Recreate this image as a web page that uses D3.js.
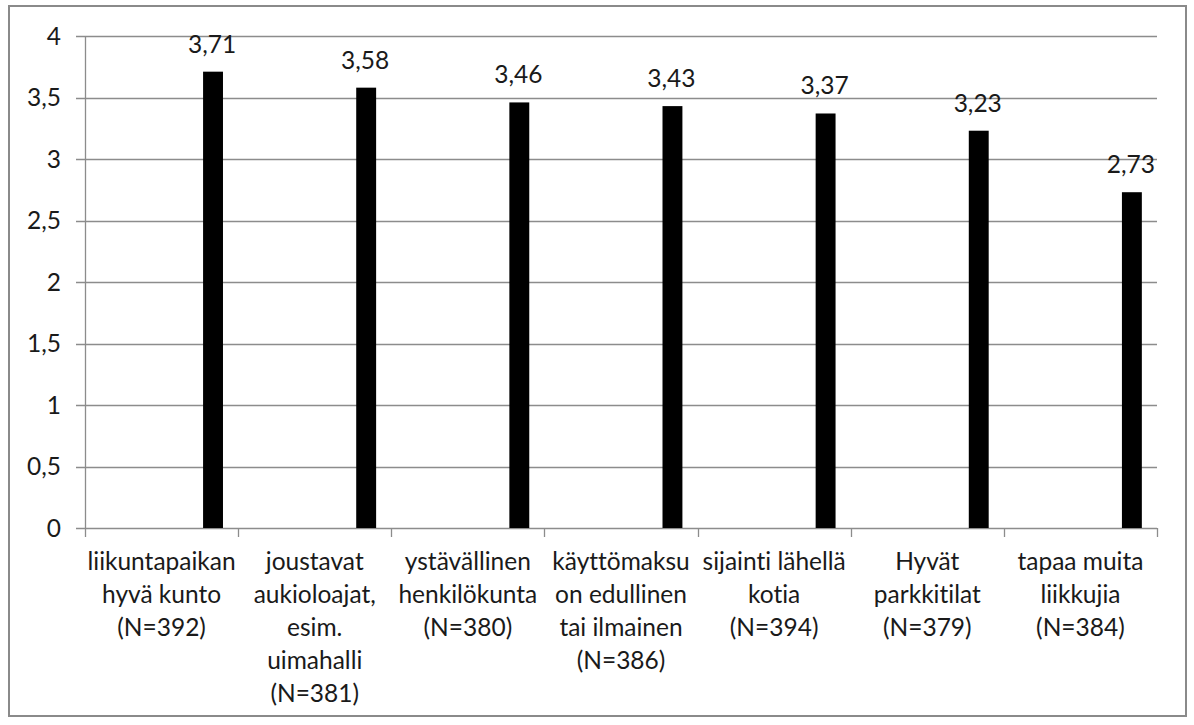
<!DOCTYPE html>
<html>
<head>
<meta charset="utf-8">
<script src="https://cdn.jsdelivr.net/npm/d3@7"></script>
<style>
  html, body { margin: 0; padding: 0; background: #fff; }
  svg { display: block; }
  text {
    font-family: Lato, "Open Sans", sans-serif;
    fill: #1a1a1a;
    font-variant-ligatures: none;
    font-feature-settings: "liga" 0, "clig" 0;
  }
</style>
</head>
<body>
<svg id="chart" width="1194" height="725"></svg>
<script>
// Category labels, one entry per line of the wrapped label
const categories = [
  ["liikuntapaikan", "hyvä kunto", "(N=392)"],
  ["joustavat", "aukioloajat,", "esim.", "uimahalli", "(N=381)"],
  ["ystävällinen", "henkilökunta", "(N=380)"],
  ["käyttömaksu", "on edullinen", "tai ilmainen", "(N=386)"],
  ["sijainti lähellä", "kotia", "(N=394)"],
  ["Hyvät", "parkkitilat", "(N=379)"],
  ["tapaa muita", "liikkujia", "(N=384)"]
];
const values = [3.71, 3.58, 3.46, 3.43, 3.37, 3.23, 2.73];
const yTicks = [0, 0.5, 1, 1.5, 2, 2.5, 3, 3.5, 4];

const svg = d3.select("#chart");
const W = 1194, H = 725;
const margin = { left: 85, right: 37, top: 36, bottom: 197 };
const plotW = W - margin.left - margin.right;
const plotH = H - margin.top - margin.bottom;
const fontSize = 24.5;
const gridColor = "#8c8c8c";

// Outer chart frame
svg.append("rect")
  .attr("x", 9).attr("y", 6)
  .attr("width", 1177).attr("height", 710)
  .attr("fill", "#fff")
  .attr("stroke", "#8a8a8a")
  .attr("stroke-width", 2);

const g = svg.append("g").attr("transform", `translate(${margin.left},${margin.top})`);

const keys = categories.map((d, i) => i);
const x = d3.scaleBand().domain(keys).range([0, plotW]).paddingInner(0).paddingOuter(0);
const y = d3.scaleLinear().domain([0, 4]).range([plotH, 0]);

// Horizontal gridlines with short tick stubs to the left of the axis
g.append("g")
  .selectAll("line")
  .data(yTicks)
  .join("line")
  .attr("x1", -9).attr("x2", plotW)
  .attr("y1", d => Math.round(y(d)) + 0.5)
  .attr("y2", d => Math.round(y(d)) + 0.5)
  .attr("stroke", gridColor)
  .attr("stroke-width", 1.3);

// Vertical value axis line
g.append("line")
  .attr("x1", 0.5).attr("x2", 0.5)
  .attr("y1", y(4)).attr("y2", y(0))
  .attr("stroke", gridColor).attr("stroke-width", 1.3);

// Y tick labels (decimal comma)
const fmt = v => String(v).replace(".", ",");
g.append("g")
  .selectAll("text")
  .data(yTicks)
  .join("text")
  .attr("x", -24)
  .attr("y", d => y(d))
  .attr("dy", "0.35em")
  .attr("text-anchor", "end")
  .attr("font-size", fontSize)
  .text(fmt);

// Category boundary ticks below the baseline
const bounds = keys.map(k => x(k)).concat([plotW]);
g.append("g")
  .selectAll("line")
  .data(bounds)
  .join("line")
  .attr("x1", d => Math.round(d) + 0.5).attr("x2", d => Math.round(d) + 0.5)
  .attr("y1", plotH).attr("y2", plotH + 9)
  .attr("stroke", gridColor).attr("stroke-width", 1.3);

// Bars sit in the right part of each category slot
const barOffset = 0.771, barWidth = 0.13;
const bw = x.bandwidth();
g.append("g")
  .selectAll("rect")
  .data(values)
  .join("rect")
  .attr("x", (d, i) => x(i) + bw * barOffset)
  .attr("width", bw * barWidth)
  .attr("y", d => y(d))
  .attr("height", d => y(0) - y(d))
  .attr("fill", "#000");

// Value labels above bars
g.append("g")
  .selectAll("text")
  .data(values)
  .join("text")
  .attr("x", (d, i) => x(i) + bw * (barOffset + barWidth / 2) - 1)
  .attr("y", d => y(d) - 19)
  .attr("text-anchor", "middle")
  .attr("font-size", fontSize)
  .text(d => d.toFixed(2).replace(".", ","));

// Wrapped category labels
const lineH = 33;
const cat = g.append("g")
  .selectAll("text")
  .data(categories)
  .join("text")
  .attr("text-anchor", "middle")
  .attr("font-size", fontSize)
  .attr("transform", (d, i) => `translate(${x(i) + bw / 2},${plotH + 42})`);
cat.selectAll("tspan")
  .data(d => d)
  .join("tspan")
  .attr("x", 0)
  .attr("y", (d, j) => j * lineH)
  .text(d => d);
</script>
</body>
</html>
